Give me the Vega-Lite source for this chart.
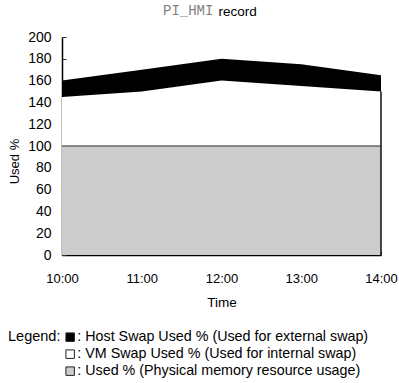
{
  "$schema": "https://vega.github.io/schema/vega-lite/v6.json",
  "autosize": "none",
  "width": 319,
  "height": 218,
  "padding": {"left": 62, "top": 37, "right": 18, "bottom": 128},
  "background": "white",
  "title": {
    "text": "PI_HMI",
    "anchor": "start",
    "frame": "group",
    "dx": 101,
    "font": "Liberation Mono",
    "fontSize": 14,
    "fontWeight": "normal",
    "color": "#808080",
    "offset": -14
  },
  "data": {
    "values": [
      {"time": "10:00", "series": "Used % (Physical memory resource usage)", "order": 1, "value": 100},
      {"time": "11:00", "series": "Used % (Physical memory resource usage)", "order": 1, "value": 100},
      {"time": "12:00", "series": "Used % (Physical memory resource usage)", "order": 1, "value": 100},
      {"time": "13:00", "series": "Used % (Physical memory resource usage)", "order": 1, "value": 100},
      {"time": "14:00", "series": "Used % (Physical memory resource usage)", "order": 1, "value": 100},
      {"time": "10:00", "series": "VM Swap Used % (Used for internal swap)", "order": 2, "value": 45},
      {"time": "11:00", "series": "VM Swap Used % (Used for internal swap)", "order": 2, "value": 50},
      {"time": "12:00", "series": "VM Swap Used % (Used for internal swap)", "order": 2, "value": 60},
      {"time": "13:00", "series": "VM Swap Used % (Used for internal swap)", "order": 2, "value": 55},
      {"time": "14:00", "series": "VM Swap Used % (Used for internal swap)", "order": 2, "value": 50},
      {"time": "10:00", "series": "Host Swap Used % (Used for external swap)", "order": 3, "value": 15},
      {"time": "11:00", "series": "Host Swap Used % (Used for external swap)", "order": 3, "value": 20},
      {"time": "12:00", "series": "Host Swap Used % (Used for external swap)", "order": 3, "value": 20},
      {"time": "13:00", "series": "Host Swap Used % (Used for external swap)", "order": 3, "value": 20},
      {"time": "14:00", "series": "Host Swap Used % (Used for external swap)", "order": 3, "value": 15}
    ]
  },
  "layer": [
    {
      "mark": {"type": "area", "opacity": 1},
      "encoding": {
        "x": {"field": "time", "type": "ordinal", "scale": {"type": "point", "padding": 0}, "sort": null,
              "axis": {"title": "Time", "orient": "bottom", "labelAngle": 0, "tickSize": -4, "labelPadding": 21, "titlePadding": 10, "labelFontSize": 13, "titleFontSize": 13.5}},
        "y": {"field": "value", "type": "quantitative", "stack": "zero",
              "scale": {"domain": [0, 200]},
              "axis": {"title": "Used %", "values": [0,20,40,60,80,100,120,140,160,180,200]}},
        "color": {"field": "series", "type": "nominal",
                  "scale": {"domain": ["Host Swap Used % (Used for external swap)", "VM Swap Used % (Used for internal swap)", "Used % (Physical memory resource usage)"],
                            "range": ["#000000", "#ffffff", "#cccccc"]},
                  "legend": {"title": "Legend:", "orient": "none", "legendX": -54, "legendY": 293, "direction": "vertical",
                             "titleOrient": "left", "titleAnchor": "start", "titleFontWeight": "normal", "titleFontSize": 14.5, "titleFont": "Liberation Sans", "titleColor": "#000000",
                             "titlePadding": 2, "labelFontSize": 14.3, "labelFont": "Liberation Sans", "labelColor": "#000000", "labelLimit": 400,
                             "labelExpr": "': ' + datum.label", "labelOffset": 0,
                             "symbolType": "square", "symbolSize": 72, "symbolStrokeColor": "#222222", "symbolStrokeWidth": 1, "symbolOpacity": 1,
                             "rowPadding": 2}},
        "order": {"field": "order", "type": "quantitative"}
      }
    },
    {
      "transform": [{"filter": "datum.order == 1"}],
      "mark": {"type": "line", "color": "#666666", "strokeWidth": 1.5},
      "encoding": {
        "x": {"field": "time", "type": "ordinal", "sort": null, "axis": null},
        "y": {"field": "value", "type": "quantitative", "title": "Used %", "axis": {"title": "Used %", "values": [0,20,40,60,80,100,120,140,160,180,200]}}
      }
    },
    {
      "transform": [
        {"stack": "value", "groupby": ["time"], "sort": [{"field": "order", "order": "ascending"}], "as": ["v0", "v1"]},
        {"filter": "datum.time == '14:00' && datum.order <= 2"}
      ],
      "mark": {"type": "rule", "color": "#111111", "strokeWidth": 1.5},
      "encoding": {
        "x": {"field": "time", "type": "ordinal", "sort": null,
              "axis": {"orient": "top", "title": "record", "labels": false, "ticks": false, "domain": false,
                       "titleX": 156, "titleY": -26, "titleAlign": "left", "titleBaseline": "middle", "titleFontSize": 13.5, "titlePadding": 0}},
        "y": {"field": "v0", "type": "quantitative", "title": "Used %", "axis": {"title": "Used %", "values": [0,20,40,60,80,100,120,140,160,180,200]}},
        "y2": {"field": "v1"}
      }
    }
  ],
  "resolve": {"axis": {"x": "independent"}},
  "config": {
    "view": {"stroke": null},
    "axis": {
      "grid": false,
      "domainColor": "#000000",
      "domainWidth": 1.5,
      "tickColor": "#333333",
      "labelColor": "#000000",
      "titleColor": "#000000",
      "labelFont": "Liberation Sans",
      "titleFont": "Liberation Sans",
      "labelFontSize": 13,
      "titleFontSize": 13,
      "titleFontWeight": "normal"
    },
    "axisY": {
      "labelOverlap": false,
      "labelFontSize": 14,
      "tickSize": -4,
      "labelPadding": 15,
      "titleX": -48,
      "titleY": 124,
      "titleAlign": "center",
      "titleBaseline": "middle"
    }
  }
}
